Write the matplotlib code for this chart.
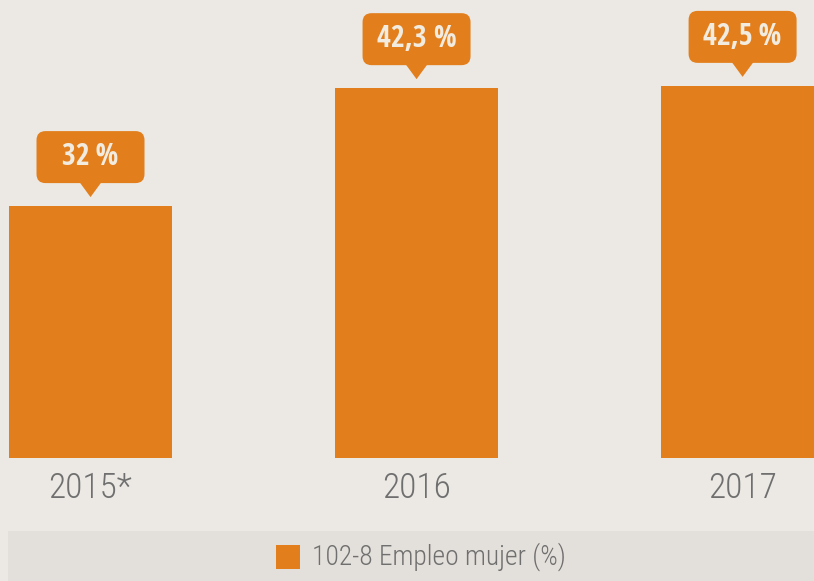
import matplotlib.pyplot as plt
from matplotlib.patches import FancyBboxPatch, Polygon, Rectangle

years = ['2015*', '2016', '2017']
values = [32, 42.3, 42.5]
value_labels = ['32\u2009%', '42,3 %', '42,5\u2009%']
legend_label = '102-8 Empleo mujer (%)'

bg = '#ece9e4'
orange = '#e27f1c'
grey = '#6f6f6f'
W, H = 814, 581

light = ['Roboto Condensed', 'DejaVu Sans']
bold = ['Open Sans Condensed', 'DejaVu Sans']
plt.rcParams['font.family'] = light

fig = plt.figure(figsize=(W / 100, H / 100), dpi=100, facecolor=bg)

# main bar axes: from top of figure down to the bar baseline (y=458 px)
ax = fig.add_axes([0, (H - 458) / H, 1, 458 / H])
ax.set_facecolor(bg)
x = range(len(years))
ax.bar(x, values, width=0.5, color=orange)
ax.set_ylim(10, 50)
ax.set_xlim(-0.2776, 2.219)
ax.set_yticks([])
ax.set_xticks(list(x))
ax.set_xticklabels(years, fontsize=25.5, color=grey, fontweight=300, family=light)
ax.tick_params(axis='x', length=0, pad=10)
for s in ax.spines.values():
    s.set_visible(False)

# overlay axes in pixel coordinates for callouts and legend band
ov = fig.add_axes([0, 0, 1, 1], zorder=5)
ov.set_xlim(0, W)
ov.set_ylim(0, H)
ov.axis('off')
ov.patch.set_alpha(0)

for i, (v, lab) in enumerate(zip(values, value_labels)):
    px, py = ax.transData.transform((i, v))
    tip = py + 9
    ov.add_patch(Polygon([[px - 11, tip + 15], [px + 11, tip + 15], [px, tip]],
                         closed=True, color=orange, lw=0))
    bw, bh = 108, 52
    ov.add_patch(FancyBboxPatch((px - bw / 2, tip + 14), bw, bh,
                                boxstyle='round,pad=0,rounding_size=9',
                                fc=orange, ec='none'))
    ov.text(px, tip + 14 + bh / 2, lab, ha='center', va='center',
            fontsize=21.5, fontweight='bold', color='#f2ebdf', family=bold)

# legend band
ov.add_patch(Rectangle((8, 0), W - 8, 50, fc='#e3dfda', ec='none'))
ov.add_patch(Rectangle((276, 12), 24, 24, fc=orange, ec='none'))
ov.text(312, 24, legend_label, ha='left', va='center', fontsize=19.8,
        color=grey, fontweight=300, family=light)

fig.savefig('out.png', dpi=100, facecolor=bg)
